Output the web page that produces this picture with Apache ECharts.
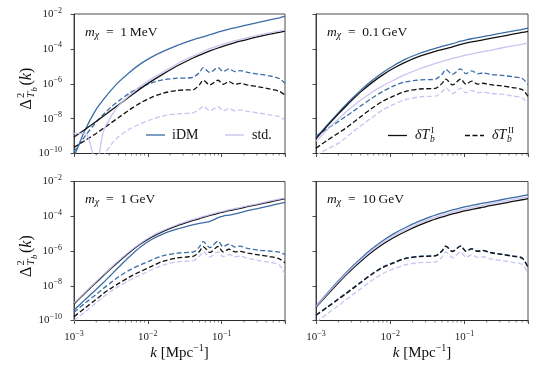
<!DOCTYPE html>
<html><head><meta charset="utf-8">
<script src="https://cdn.jsdelivr.net/npm/echarts@6.0.0/dist/echarts.min.js"></script>
<style>html,body{margin:0;padding:0;background:#fff}#c{width:538px;height:374px}</style>
</head><body><div id="c"></div>
<script>
// ---- data (log10 values) ----
const logK = [-3.0, -2.85, -2.7, -2.6, -2.5, -2.4, -2.25, -2.1, -1.95, -1.8, -1.6, -1.45, -1.38, -1.3, -1.25, -1.16, -1.05, -0.98, -0.9, -0.82, -0.75, -0.65, -0.5, -0.35, -0.22, -0.143];

// m_chi = 1 MeV
const mev1_iDM_I   = [-10.2, -8.65, -7.47, -6.9, -6.38, -5.92, -5.35, -4.86, -4.47, -4.16, -3.8, -3.57, -3.47, -3.37, -3.31, -3.19, -3.04, -2.96, -2.87, -2.79, -2.72, -2.62, -2.48, -2.34, -2.22, -2.14];
const mev1_iDM_II  = [-9.9, -9.0, -8.2, -7.75, -7.35, -7.0, -6.55, -6.2, -5.95, -5.78, -5.68, -5.67, -5.62, -5.35, -5.08, -5.35, -5.08, -5.3, -5.15, -5.3, -5.25, -5.35, -5.45, -5.55, -5.7, -5.98];
const mev1_blk_I   = [-9.05, -8.62, -8.16, -7.85, -7.53, -7.22, -6.75, -6.28, -5.85, -5.46, -4.97, -4.65, -4.51, -4.36, -4.27, -4.12, -3.95, -3.85, -3.74, -3.64, -3.56, -3.45, -3.3, -3.16, -3.05, -2.98];
const mev1_blk_II  = [-9.65, -9.25, -8.85, -8.55, -8.25, -7.95, -7.5, -7.1, -6.78, -6.55, -6.38, -6.35, -6.33, -6.05, -5.8, -6.07, -5.8, -6.03, -5.88, -6.03, -5.98, -6.07, -6.18, -6.3, -6.43, -6.65];
const mev1_std_I   = [-8.85, -8.85, -10.6, -8.7, -7.9, -7.27, -6.68, -6.15, -5.72, -5.35, -4.85, -4.53, -4.4, -4.25, -4.15, -3.99, -3.83, -3.73, -3.63, -3.53, -3.46, -3.36, -3.21, -3.08, -2.97, -2.91];
const mev1_std_II  = [-11, -11, -11, -10.15, -9.5, -9.05, -8.6, -8.3, -8.05, -7.85, -7.72, -7.7, -7.66, -7.45, -7.3, -7.55, -7.32, -7.55, -7.42, -7.55, -7.5, -7.58, -7.68, -7.78, -7.88, -8.1];

// m_chi = 0.1 GeV
const gev01_iDM_I  = [-9.1, -8.37, -7.67, -7.22, -6.79, -6.38, -5.83, -5.35, -4.95, -4.6, -4.25, -4.04, -3.95, -3.86, -3.8, -3.7, -3.56, -3.49, -3.42, -3.36, -3.3, -3.22, -3.1, -2.98, -2.88, -2.81];
const gev01_iDM_II = [-9.0, -8.58, -8.17, -7.88, -7.58, -7.28, -6.84, -6.44, -6.12, -5.9, -5.78, -5.76, -5.72, -5.45, -5.19, -5.46, -5.15, -5.42, -5.26, -5.43, -5.38, -5.46, -5.52, -5.6, -5.7, -6.05];
const gev01_blk_I  = [-9.15, -8.43, -7.74, -7.3, -6.88, -6.48, -5.95, -5.49, -5.1, -4.77, -4.42, -4.22, -4.13, -4.04, -3.98, -3.88, -3.74, -3.67, -3.6, -3.54, -3.48, -3.4, -3.28, -3.16, -3.06, -3.0];
const gev01_blk_II = [-9.7, -9.25, -8.83, -8.55, -8.22, -7.9, -7.42, -7.0, -6.7, -6.45, -6.3, -6.28, -6.25, -5.98, -5.73, -6.07, -5.73, -6.02, -5.85, -6.02, -5.97, -6.05, -6.12, -6.22, -6.34, -6.72];
const gev01_std_I  = [-9.3, -8.64, -8.03, -7.64, -7.28, -6.95, -6.5, -6.12, -5.79, -5.48, -5.14, -4.92, -4.82, -4.72, -4.66, -4.55, -4.43, -4.36, -4.29, -4.22, -4.16, -4.08, -3.95, -3.83, -3.73, -3.67];
const gev01_std_II = [-10.1, -9.75, -9.42, -9.1, -8.75, -8.42, -7.95, -7.5, -7.18, -6.92, -6.75, -6.72, -6.7, -6.45, -6.24, -6.56, -6.25, -6.52, -6.38, -6.52, -6.48, -6.55, -6.6, -6.7, -6.82, -7.2];

// m_chi = 1 GeV
const gev1_iDM_I   = [-9.4, -8.8, -8.21, -7.81, -7.38, -6.95, -6.33, -5.77, -5.34, -5.03, -4.73, -4.55, -4.48, -4.41, -4.37, -4.3, -4.08, -3.99, -3.93, -3.86, -3.79, -3.68, -3.55, -3.4, -3.27, -3.2];
const gev1_iDM_II  = [-9.53, -9.0, -8.5, -8.15, -7.82, -7.5, -7.1, -6.8, -6.52, -6.28, -6.12, -6.08, -6.05, -5.75, -5.46, -5.8, -5.44, -5.75, -5.6, -5.78, -5.72, -5.85, -5.95, -6.0, -6.07, -6.2];
const gev1_blk_I   = [-9.05, -8.42, -7.81, -7.41, -7.01, -6.63, -6.08, -5.6, -5.2, -4.88, -4.54, -4.32, -4.23, -4.13, -4.06, -3.95, -3.83, -3.76, -3.68, -3.61, -3.55, -3.45, -3.32, -3.18, -3.06, -2.99];
const gev1_blk_II  = [-9.78, -9.28, -8.78, -8.44, -8.15, -7.88, -7.5, -7.18, -6.88, -6.6, -6.4, -6.33, -6.3, -6.02, -5.75, -6.08, -5.74, -6.05, -5.9, -6.05, -6.02, -6.12, -6.22, -6.32, -6.45, -6.68];
const gev1_std_I   = [-9.0, -8.37, -7.76, -7.36, -6.96, -6.58, -6.03, -5.55, -5.15, -4.83, -4.49, -4.27, -4.18, -4.08, -4.01, -3.9, -3.78, -3.71, -3.63, -3.56, -3.5, -3.4, -3.27, -3.13, -3.01, -2.94];
const gev1_std_II  = [-10.0, -9.5, -8.98, -8.63, -8.33, -8.05, -7.68, -7.38, -7.08, -6.82, -6.62, -6.58, -6.55, -6.3, -6.04, -6.35, -6.05, -6.32, -6.2, -6.33, -6.3, -6.42, -6.55, -6.65, -6.8, -7.35];

// m_chi = 10 GeV
const gev10_iDM_I  = [-9.17, -8.44, -7.73, -7.28, -6.85, -6.44, -5.89, -5.41, -5.0, -4.66, -4.27, -4.02, -3.92, -3.81, -3.75, -3.64, -3.52, -3.45, -3.38, -3.31, -3.25, -3.17, -3.05, -2.93, -2.83, -2.77];
const gev10_iDM_II = [-9.68, -9.22, -8.75, -8.44, -8.12, -7.8, -7.32, -6.92, -6.65, -6.42, -6.3, -6.28, -6.25, -5.98, -5.71, -6.01, -5.7, -6.0, -5.86, -6.0, -5.96, -6.08, -6.18, -6.28, -6.4, -6.93];
const gev10_blk_I  = [-9.24, -8.53, -7.84, -7.4, -6.99, -6.6, -6.07, -5.61, -5.22, -4.89, -4.5, -4.25, -4.15, -4.04, -3.98, -3.87, -3.75, -3.68, -3.61, -3.54, -3.48, -3.39, -3.27, -3.15, -3.05, -2.99];
const gev10_blk_II = [-9.7, -9.25, -8.78, -8.47, -8.15, -7.83, -7.35, -6.95, -6.68, -6.44, -6.32, -6.3, -6.27, -6.0, -5.73, -6.03, -5.72, -6.02, -5.88, -6.02, -5.98, -6.1, -6.2, -6.3, -6.42, -6.95];
const gev10_std_I  = [-9.2, -8.48, -7.78, -7.34, -6.92, -6.52, -5.98, -5.51, -5.11, -4.78, -4.39, -4.14, -4.04, -3.93, -3.87, -3.76, -3.64, -3.57, -3.5, -3.43, -3.37, -3.28, -3.16, -3.04, -2.94, -2.88];
const gev10_std_II = [-10.1, -9.62, -9.15, -8.83, -8.5, -8.18, -7.7, -7.3, -7.02, -6.8, -6.67, -6.65, -6.62, -6.35, -6.05, -6.38, -6.05, -6.36, -6.22, -6.37, -6.33, -6.45, -6.55, -6.65, -6.78, -7.3];

const panelMass = ['1\u2009MeV', '0.1\u2009GeV', '1\u2009GeV', '10\u2009GeV'];
const xTickExp = [-3, -2, -1];
const yTickExp = [-10, -8, -6, -4, -2];
const minorMult = [2, 3, 4, 5, 6, 7, 8, 9];
const legendNames = ['iDM', 'std.'];

// ---- layout / style ----
const FONT = '"Liberation Serif","DejaVu Serif",serif';
const BLUE = '#3a6ca6', LAV = '#c3bef0', BLK = '#111111';
const XMIN = -3, XMAX = Math.log10(0.72), YMIN = -10, YMAX = -2;
const grids = [
  {left: 74, top: 14, width: 211, height: 139.5},
  {left: 316, top: 14, width: 212, height: 139.5},
  {left: 74, top: 181.5, width: 211, height: 139},
  {left: 316, top: 181.5, width: 212, height: 139}
];
const panelData = [
  [mev1_iDM_I, mev1_iDM_II, mev1_blk_I, mev1_blk_II, mev1_std_I, mev1_std_II],
  [gev01_iDM_I, gev01_iDM_II, gev01_blk_I, gev01_blk_II, gev01_std_I, gev01_std_II],
  [gev1_iDM_I, gev1_iDM_II, gev1_blk_I, gev1_blk_II, gev1_std_I, gev1_std_II],
  [gev10_iDM_I, gev10_iDM_II, gev10_blk_I, gev10_blk_II, gev10_std_I, gev10_std_II]
];
const styles = [
  {color: BLUE, dash: 'solid'}, {color: BLUE, dash: [5, 2.5]},
  {color: BLK, dash: 'solid'}, {color: BLK, dash: [5, 2.5]},
  {color: LAV, dash: 'solid'}, {color: LAV, dash: [5, 2.5]}
];

function powLabel(v) {
  const r = Math.round(v);
  if (Math.abs(v - r) > 1e-6) return '';
  return '{b|10}{s|' + (r < 0 ? '\u2212' + (-r) : r) + '}';
}
const tickRich = {
  b: {fontSize: 11, fontFamily: FONT, color: '#222'},
  s: {fontSize: 8, fontFamily: FONT, color: '#222', padding: [0, 0, 7, 0]}
};
const xTickSet = new Set(xTickExp), yTickSet = new Set(yTickExp);

const xAxes = [], yAxes = [], series = [];
grids.forEach((g, i) => {
  xAxes.push({
    type: 'value', gridIndex: i, min: XMIN, max: XMAX, interval: 1,
    axisLine: {show: true, lineStyle: {color: '#222', width: 0.8}},
    axisTick: {show: true, inside: false, length: 3.5, lineStyle: {color: '#222', width: 0.8}},
    splitLine: {show: false},
    axisLabel: {show: i >= 2, margin: 9, rich: tickRich,
      formatter: v => xTickSet.has(Math.round(v)) && Math.abs(v - Math.round(v)) < 1e-6 ? powLabel(v) : ''}
  });
  yAxes.push({
    type: 'value', gridIndex: i, min: YMIN, max: YMAX, interval: 2,
    axisLine: {show: true, lineStyle: {color: '#222', width: 0.8}},
    axisTick: {show: true, inside: false, length: 3.5, lineStyle: {color: '#222', width: 0.8}},
    splitLine: {show: false},
    axisLabel: {show: i % 2 === 0, margin: 12, rich: tickRich,
      formatter: v => yTickSet.has(Math.round(v)) ? powLabel(v) : ''}
  });
  panelData[i].forEach((arr, j) => {
    series.push({
      type: 'line', xAxisIndex: i, yAxisIndex: i, showSymbol: false, symbol: 'none',
      silent: true, animation: false, clip: true, z: j >= 4 ? 3 : 2,
      smooth: 0.3,
      lineStyle: {color: styles[j].color, width: 1.3, type: styles[j].dash,
        opacity: j >= 4 ? 0.9 : 1},
      data: logK.map((x, k) => [x, arr[k]])
    });
  });
  // minor ticks on log x axis
  const minor = [];
  for (let e = -3; e <= -1; e++) minorMult.forEach(m => {
    const v = e + Math.log10(m);
    if (v < XMAX) minor.push([v, YMIN]);
  });
  series.push({
    type: 'custom', xAxisIndex: i, yAxisIndex: i, silent: true, animation: false, clip: false,
    data: minor,
    renderItem: (params, api) => {
      const p = api.coord([api.value(0), api.value(1)]);
      return {type: 'line', shape: {x1: p[0], y1: p[1], x2: p[0], y2: p[1] + 2},
        style: {stroke: '#222', lineWidth: 0.6}};
    }
  });
});

function txt(x, y, text, opts) {
  return {type: 'text', x: x, y: y, silent: true, z: 100,
    style: Object.assign({text: text, fontFamily: FONT, fontSize: 12, fill: '#111',
      align: 'left', verticalAlign: 'middle', textAlign: 'left', textVerticalAlign: 'middle'}, opts || {})};
}
const mathRich = {
  i: {fontStyle: 'italic', fontSize: 13.5, fontFamily: FONT, color: '#111'},
  r: {fontSize: 13.5, fontFamily: FONT, color: '#111'},
  sub: {fontStyle: 'italic', fontSize: 10, fontFamily: FONT, color: '#111', padding: [6, 0, 0, 0]}
};
const graphics = [];
grids.forEach((g, i) => {
  graphics.push(txt(g.left + 11, g.top + 18, '{i|m}{sub|\u03c7}{r|\u2002=\u2002' + panelMass[i] + '}', {rich: mathRich}));
});
// legend, top-left panel
graphics.push({type: 'line', silent: true, shape: {x1: 146, y1: 135, x2: 165, y2: 135}, style: {stroke: BLUE, lineWidth: 1.3}});
graphics.push(txt(172, 135, legendNames[0], {fontSize: 14}));
graphics.push({type: 'line', silent: true, shape: {x1: 225, y1: 135, x2: 244, y2: 135}, style: {stroke: LAV, lineWidth: 1.3}});
graphics.push(txt(252, 135, legendNames[1], {fontSize: 14}));
// legend, top-right panel
function dT(x, y, sup) {
  return [
    txt(x, y, '\u03b4T', {fontSize: 14, fontStyle: 'italic'}),
    txt(x + 16, y - 4.5, sup, {fontSize: 9}),
    txt(x + 15, y + 4, 'b', {fontSize: 9.5, fontStyle: 'italic'})
  ];
}
graphics.push({type: 'line', silent: true, shape: {x1: 388, y1: 135.5, x2: 407, y2: 135.5}, style: {stroke: BLK, lineWidth: 1.3}});
graphics.push(...dT(415, 135.5, 'I'));
graphics.push({type: 'line', silent: true, shape: {x1: 465, y1: 135.5, x2: 484, y2: 135.5}, style: {stroke: BLK, lineWidth: 1.3, lineDash: [5, 2.5]}});
graphics.push(...dT(492, 135.5, 'II'));
// y titles
function yTitle(cx, cy) {
  const L = 52;
  return {type: 'group', x: cx, y: cy + L / 2, rotation: Math.PI / 2, silent: true, children: [
    txt(0, 0, '\u0394', {fontSize: 16}),
    txt(11.5, -6, '2', {fontSize: 10.5}),
    txt(11.5, 4.5, 'T', {fontSize: 11, fontStyle: 'italic'}),
    txt(18, 8, 'b', {fontSize: 8.5, fontStyle: 'italic'}),
    txt(24, 0, '{r|(}{i|k}{r|)}', {rich: {
      r: {fontSize: 16, fontFamily: FONT, color: '#111'},
      i: {fontSize: 16, fontFamily: FONT, fontStyle: 'italic', color: '#111'}}})
  ]};
}
graphics.push(yTitle(27, 83.5));
graphics.push(yTitle(27, 251));
// x titles
const xRich = {
  i: {fontStyle: 'italic', fontSize: 15, fontFamily: FONT, color: '#111'},
  r: {fontSize: 15, fontFamily: FONT, color: '#111'},
  sup: {fontSize: 10, fontFamily: FONT, color: '#111', padding: [0, 0, 9, 0]}
};
[0, 1].forEach(c => {
  const g = grids[2 + c];
  graphics.push(txt(g.left + g.width / 2, 353, '{i|k}{r| [Mpc}{sup|\u22121}{r|]}',
    {rich: xRich, align: 'center', textAlign: 'center'}));
});

const chart = echarts.init(document.getElementById('c'), null, {renderer: 'canvas'});
chart.setOption({
  animation: false,
  backgroundColor: '#fff',
  grid: grids.map(g => Object.assign({show: true, borderColor: '#222', borderWidth: 0.8, backgroundColor: 'transparent'}, g)),
  xAxis: xAxes,
  yAxis: yAxes,
  series: series,
  graphic: graphics
});
</script>
</body></html>
